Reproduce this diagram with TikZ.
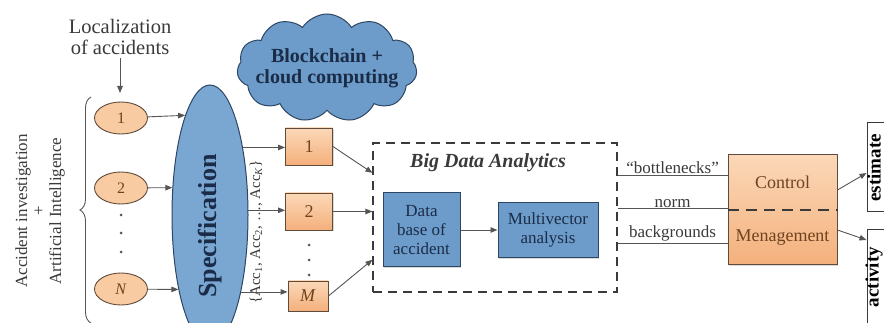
\documentclass[tikz,border=0pt]{standalone}
\usepackage{fontspec}
\setmainfont{Liberation Serif}
\usepackage{xcolor}
\usepackage{tikz}
\usetikzlibrary{shapes.geometric, shapes.symbols, arrows.meta, positioning, calc, decorations.pathreplacing, shadows}

\definecolor{orfill}{HTML}{F9CBA2}
\definecolor{ortop}{HTML}{FBD8B8}
\definecolor{orbot}{HTML}{F4B07C}
\definecolor{ordraw}{HTML}{5E4B3B}
\definecolor{ortext}{HTML}{6E4320}
\definecolor{blfill}{HTML}{6D9CCA}
\definecolor{specfill}{HTML}{7AA6D2}
\definecolor{bldraw}{HTML}{2C4664}
\definecolor{bltext}{HTML}{1A2C47}
\definecolor{linegray}{HTML}{555555}
\definecolor{txtgray}{HTML}{3A3A3A}

\begin{document}
\begin{tikzpicture}[
    x=1pt, y=-1pt,
    accnode/.style={ellipse, draw=ordraw, fill=orfill, line width=0.9pt, minimum width=53pt, minimum height=32pt, inner sep=0pt, text=ortext, font=\fontsize{16}{18}\selectfont},
    accbox/.style={rectangle, draw=ordraw, top color=ortop, bottom color=orbot, line width=0.9pt, minimum width=47pt, minimum height=37pt, inner sep=0pt, text=ortext, font=\fontsize{18}{20}\selectfont, drop shadow={shadow xshift=1.2pt, shadow yshift=-1.2pt, opacity=0.3}},
    block/.style={rectangle, draw=bldraw, fill=blfill, line width=1pt, align=center, inner sep=0pt, text=bltext, font=\fontsize{17}{19}\selectfont, drop shadow={shadow xshift=1.2pt, shadow yshift=-1.2pt, opacity=0.3}},
    resbox/.style={rectangle, draw=txtgray, fill=white, line width=1pt, inner sep=0pt},
    restext/.style={rotate=90, inner sep=0pt, text=black, font=\bfseries\fontsize{19}{21}\selectfont},
    lbl/.style={font=\fontsize{17}{19}\selectfont, text=txtgray, inner sep=1.5pt},
    arrow/.style={draw=linegray, line width=0.9pt, -{Triangle[length=7pt, width=5.5pt]}},
    link/.style={draw=linegray, line width=0.9pt}
]
    \useasboundingbox (0,0) rectangle (884,323);

    % Inputs
    \node (loc) [align=center, text=txtgray, font=\fontsize{20.5}{21}\selectfont] at (120,37) {Localization\\of accidents};
    \coordinate (grp) at (120,93);
    \node (aiai) [rotate=90, align=center, text=txtgray, font=\fontsize{17}{17}\selectfont] at (40,211) {Accident investigation\\+\\Artificial Intelligence};
    \draw [decorate, decoration={brace, amplitude=11pt}, draw=linegray, line width=0.9pt] (91,323) -- (91,97);

    \node (c1) [accnode] at (121,118) {1};
    \node (c2) [accnode] at (121,188) {2};
    \node (cN) [accnode] at (121,289) {\textit{N}};
    \foreach \y in {215,233,252} \fill [linegray] (121,\y) circle (1.5pt);

    % Specification
    \node (spec) [ellipse, draw=bldraw, fill=specfill, line width=1pt, minimum width=76pt, minimum height=260pt, inner sep=0pt] at (210,215) {};
    \node (spectxt) [rotate=90, text=bltext, font=\bfseries\fontsize{26}{28}\selectfont] at ([yshift=-11pt]spec.center) {Specification};
    \node (acclist) [rotate=90, text=txtgray, font=\fontsize{15}{17}\selectfont] at (256,232) {\{Acc\textsubscript{1}, Acc\textsubscript{2}, \dots, Acc\textsubscript{\textit{K}}\}};

    \node (cloud) [cloud, cloud puffs=11, cloud puff arc=115, draw=bldraw, fill=blfill, line width=1pt, minimum width=180pt, minimum height=108pt, inner sep=0pt] at (327,68) {};
    \node (cloudtxt) [align=center, text=bltext, font=\bfseries\fontsize{20}{21}\selectfont] at (cloud.center) {Blockchain +\\cloud computing};

    \node (b1) [accbox] at (309,146.5) {1};
    \node (b2) [accbox] at (309,211.5) {2};
    \node (bM) [accbox, minimum width=40pt, minimum height=30pt] at (308,296) {\textit{M}};
    \foreach \y in {245,260,275} \fill [linegray] (309,\y) circle (1.5pt);

    % Big Data Analytics
    \node (bda) [draw=txtgray, dash pattern=on 9pt off 6pt, line width=1.1pt, minimum width=244pt, minimum height=149pt, inner sep=0pt] at (495,217.5) {};
    \node (bdatitle) [below=8pt of bda.north, xshift=-7pt, text=txtgray, font=\bfseries\itshape\fontsize{20}{22}\selectfont] {Big Data Analytics};
    \node (db) [block, minimum width=77pt, minimum height=74pt] at (421.5,230) {Data\\base of\\accident};
    \node (mv) [block, minimum width=100pt, minimum height=55pt, right=37pt of db] {Multivector\\analysis};

    % Control and results
    \node (ctrl) [rectangle, draw=ordraw, top color=ortop, bottom color=orbot, line width=1pt, minimum width=109pt, minimum height=110pt, inner sep=0pt, drop shadow={shadow xshift=1.2pt, shadow yshift=-1.2pt, opacity=0.3}] at (782.5,210) {};
    \draw [draw=txtgray, line width=1.1pt, dash pattern=on 11pt off 7pt] (ctrl.west) -- (ctrl.east);
    \node (ctrltop) [text=ortext, font=\fontsize{18}{20}\selectfont] at ($(ctrl.center)!0.5!(ctrl.north)$) {Control};
    \node (ctrlbot) [text=ortext, font=\fontsize{18}{20}\selectfont] at ($(ctrl.center)!0.5!(ctrl.south)$) {Menagement};

    \node (est) [resbox, minimum width=30pt, minimum height=89pt] at (882,167.5) {};
    \node (act) [resbox, minimum width=30pt, minimum height=94pt] at (882,277) {};
    \node (esttxt) [restext] at (874,168) {estimate};
    \node (acttxt) [restext] at (874,277) {activity};

    % Arrows
    \draw [arrow] (loc.south) -- (grp);
    \draw [arrow] (c1) -- (spec.104.6);
    \draw [arrow] (c2) -- (spec.144);
    \draw [arrow] (cN) -- (spec.247.1);
    \draw [arrow] (spec.64.5) -- (spec.64.5 -| b1.west);
    \draw [arrow] (spec.7.5) -- (spec.7.5 -| b2.west);
    \draw [arrow] (spec.-68.7) -- (spec.-68.7 -| bM.west);
    \draw [arrow] (b1.east) -- (bda.160.8);
    \draw [arrow] (b2.east) -- (b2.east -| bda.west);
    \draw [arrow] (bM.east) -- (bda.199.2);
    \draw [arrow] (db) -- (mv);
    \draw [link] (bda.19.2) -- (bda.19.2 -| ctrl.west) node [midway, above, lbl] {``bottlenecks''};
    \draw [link] (bda.4.45) -- (bda.4.45 -| ctrl.west) node [midway, above, lbl, inner sep=0.5pt] {norm};
    \draw [link] (bda.-12.7) -- (bda.-12.7 -| ctrl.west) node [midway, above, lbl, inner sep=2pt] {backgrounds};
    \draw [arrow] (ctrl.20) -- ([yshift=-5.5pt]est.west);
    \draw [arrow] (ctrl.-20) -- ([yshift=37pt]act.west);

\end{tikzpicture}
\end{document}
